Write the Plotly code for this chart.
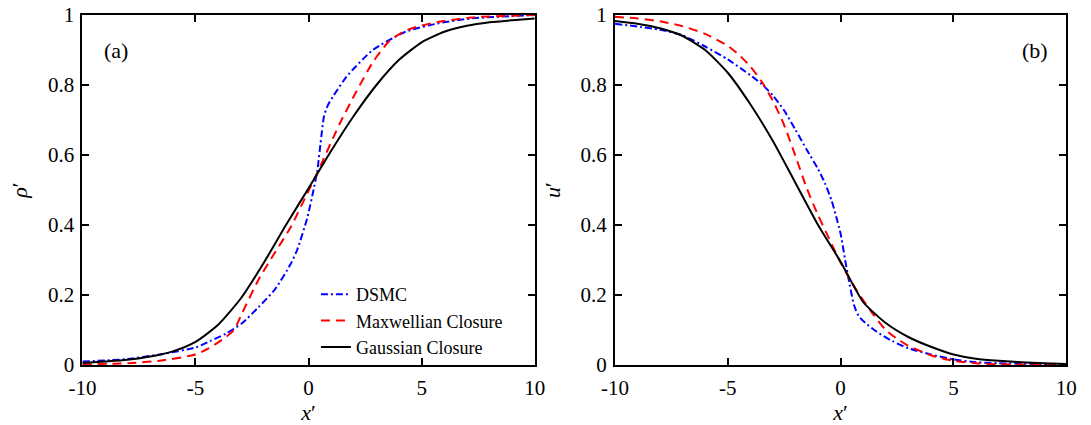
import plotly.graph_objects as go

# ---------------- data ----------------
# Panel (a): density rho'
rho_dsmc_x = [-10, -8, -6.5, -5, -4.36, -3.65, -2.93, -2.22, -1.5, -0.78, -0.5, -0.06, 0.25, 0.39, 0.53, 0.68, 0.85, 1.11, 1.68, 2.84, 4.28, 5.72, 7.16, 10]
rho_dsmc_y = [0.01, 0.017, 0.031, 0.05, 0.068, 0.09, 0.12, 0.165, 0.215, 0.29, 0.33, 0.42, 0.51, 0.557, 0.634, 0.71, 0.742, 0.77, 0.824, 0.9, 0.952, 0.976, 0.99, 1.0]

rho_max_x = [-10, -8, -6.5, -5, -4.4, -3.65, -3.3, -2.94, -2.22, -1.5, -0.78, -0.06, 0.39, 1.38, 2.1, 2.84, 3.56, 4.28, 5, 5.7, 7.2, 10]
rho_max_y = [0.002, 0.005, 0.013, 0.03, 0.048, 0.08, 0.1, 0.148, 0.243, 0.32, 0.395, 0.49, 0.55, 0.69, 0.78, 0.865, 0.925, 0.955, 0.97, 0.98, 0.993, 1.0]

rho_gau_x = [-10, -9, -8, -7, -6, -5, -4, -3, -2, -1, 0, 1, 2, 3, 4, 5, 6, 7, 8, 9, 10]
rho_gau_y = [0.006, 0.01, 0.015, 0.024, 0.039, 0.066, 0.115, 0.19, 0.29, 0.4, 0.505, 0.612, 0.712, 0.8, 0.872, 0.922, 0.952, 0.969, 0.979, 0.985, 0.99]

# Panel (b): velocity u'
u_dsmc_x = [-10, -8, -7, -6, -5, -4, -3.5, -3, -2.5, -2, -1.5, -1, -0.7, -0.4, -0.2, 0, 0.2, 0.4, 0.6, 0.8, 1.1, 1.6, 2.3, 3, 4, 5, 6, 7, 10]
u_dsmc_y = [0.975, 0.958, 0.942, 0.91, 0.873, 0.828, 0.803, 0.77, 0.727, 0.672, 0.615, 0.56, 0.52, 0.47, 0.425, 0.375, 0.3, 0.23, 0.17, 0.14, 0.12, 0.095, 0.068, 0.048, 0.03, 0.016, 0.008, 0.005, 0.002]

u_max_x = [-10, -9, -8, -7, -6, -5, -4.5, -4, -3.5, -3, -2.5, -2, -1.5, -1, -0.5, 0, 0.5, 1, 1.5, 2, 2.5, 3, 4, 5, 6, 7, 10]
u_max_y = [0.995, 0.99, 0.982, 0.968, 0.946, 0.912, 0.886, 0.853, 0.81, 0.755, 0.685, 0.597, 0.505, 0.428, 0.36, 0.292, 0.235, 0.185, 0.14, 0.1, 0.075, 0.055, 0.028, 0.012, 0.005, 0.002, 0.0]

u_gau_x = [-10, -9, -8, -7, -6, -5, -4, -3, -2, -1, 0, 1, 2, 3, 4, 5, 6, 7, 8, 9, 10]
u_gau_y = [0.983, 0.975, 0.962, 0.94, 0.9, 0.835, 0.745, 0.64, 0.52, 0.4, 0.295, 0.18, 0.12, 0.08, 0.052, 0.03, 0.018, 0.012, 0.008, 0.005, 0.003]

series_names = ["DSMC", "Maxwellian Closure", "Gaussian Closure"]
x_ticks = [-10, -5, 0, 5, 10]
x_ticktext = ["-10", "-5", "0", "5", "10"]
y_ticks = [0, 0.2, 0.4, 0.6, 0.8, 1]
y_ticktext = ["0", "0.2", "0.4", "0.6", "0.8", "1"]

# ---------------- figure ----------------
W, H = 1091, 425
FONT = "Liberation Serif, Times New Roman, serif"
styles = [
    dict(color="#0000ff", width=2, dash="7px,3px,2px,3px"),
    dict(color="#ff0000", width=2, dash="9px,6px"),
    dict(color="#000000", width=2, dash="solid"),
]

fig = go.Figure()
left = [(rho_dsmc_x, rho_dsmc_y), (rho_max_x, rho_max_y), (rho_gau_x, rho_gau_y)]
right = [(u_dsmc_x, u_dsmc_y), (u_max_x, u_max_y), (u_gau_x, u_gau_y)]
for i, (xs, ys) in enumerate(left):
    fig.add_trace(go.Scatter(x=xs, y=ys, mode="lines", name=series_names[i],
                             line=dict(shape="spline", smoothing=0.6, **styles[i]),
                             xaxis="x", yaxis="y", showlegend=True))
for i, (xs, ys) in enumerate(right):
    fig.add_trace(go.Scatter(x=xs, y=ys, mode="lines", name=series_names[i],
                             line=dict(shape="spline", smoothing=0.6, **styles[i]),
                             xaxis="x2", yaxis="y2", showlegend=False))

axis_common = dict(showgrid=False, zeroline=False, showline=True, linecolor="black",
                   linewidth=2, mirror="ticks", ticks="inside", ticklen=7,
                   tickwidth=1.5, tickcolor="black",
                   tickfont=dict(family=FONT, size=21, color="black"))

xaxis = dict(axis_common, range=[-10, 10], tickvals=x_ticks, ticktext=x_ticktext,
             ticklabelstandoff=3,
             title=dict(text="<i>x</i>′", font=dict(family=FONT, size=22, color="black"), standoff=4))
yaxis = dict(axis_common, range=[0, 1], tickvals=y_ticks, ticktext=y_ticktext,
             ticklabelstandoff=2,
             title=dict(text="<i>ρ</i>′", font=dict(family=FONT, size=22, color="black"), standoff=14))

fig.update_layout(
    width=W, height=H,
    margin=dict(l=0, r=0, t=15, b=60),
    paper_bgcolor="white", plot_bgcolor="white",
    font=dict(family=FONT, size=20, color="black"),
    xaxis=dict(xaxis, domain=[70 / W, 533 / W], anchor="y"),
    yaxis=dict(yaxis, domain=[0, 1], anchor="x"),
    xaxis2=dict(xaxis, domain=[615 / W, 1077 / W], anchor="y2"),
    yaxis2=dict(yaxis, domain=[0, 1], anchor="x2",
                title=dict(text="<i>u</i>′", font=dict(family=FONT, size=22, color="black"), standoff=14)),
    legend=dict(x=(309 - 0) / W, y=(365 - 276) / 350, xanchor="left", yanchor="top",
                bgcolor="rgba(0,0,0,0)", borderwidth=0,
                font=dict(family=FONT, size=18, color="black"),
                itemwidth=30, tracegroupgap=0),
    showlegend=True,
    annotations=[
        dict(text="(a)", x=-8.5, y=0.9, xref="x", yref="y", showarrow=False,
             font=dict(family=FONT, size=22, color="black")),
        dict(text="(b)", x=8.6, y=0.9, xref="x2", yref="y2", showarrow=False,
             font=dict(family=FONT, size=22, color="black")),
    ],
)

fig.write_html("out.html")
